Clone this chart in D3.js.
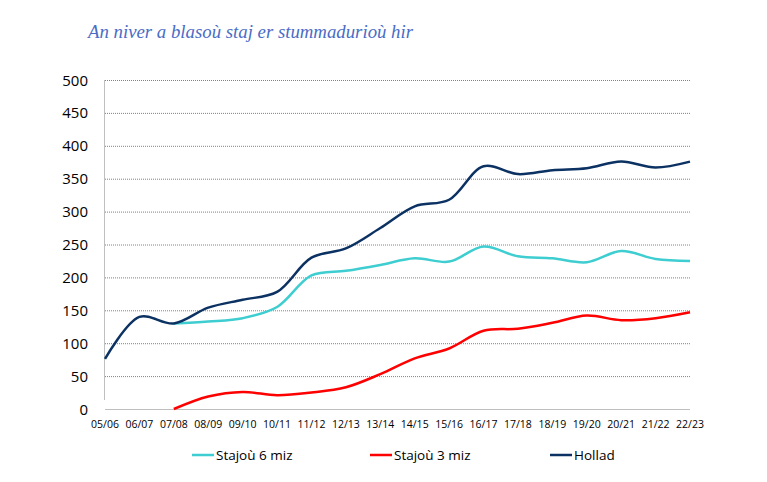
<!DOCTYPE html>
<html>
<head>
<meta charset="utf-8">
<script src="https://cdn.jsdelivr.net/npm/d3@7"></script>
<style>
  body { margin: 0; background: #ffffff; }
</style>
</head>
<body>
<div id="chart"></div>
<script>
// Chart data
const years = ["05/06", "06/07", "07/08", "08/09", "09/10", "10/11", "11/12", "12/13", "13/14",
    "14/15", "15/16", "16/17", "17/18", "18/19", "19/20", "20/21", "21/22", "22/23"];
const sixMonths = [null, null, 130, 133, 138, 155, 203, 210, 219, 229, 224, 247, 232, 229, 223, 240, 228, 225];
const threeMonths = [null, null, 0, 19, 26, 21, 25, 33, 53, 77, 92, 119, 122, 131, 142, 135, 138, 147];
const total = [76, 140, 130, 154, 166, 178, 230, 244, 275, 308, 318, 369, 357, 363, 366, 376, 367, 376];
const yTicks = [0, 50, 100, 150, 200, 250, 300, 350, 400, 450, 500];

const series = [
    { name: "Stajoù 6 miz", values: sixMonths, color: "#3ecdd0" },
    { name: "Stajoù 3 miz", values: threeMonths, color: "#ff0000" },
    { name: "Hollad", values: total, color: "#0c3263" }
];

var width = 767;
var height = 482;
const margin = ({ top: 80, right: 77, bottom: 73, left: 105 });

var svg = d3.select("#chart").append("svg")
    .attr("width", width)
    .attr("height", height);

const xScale = d3.scalePoint()
    .domain(years)
    .range([margin.left, width - margin.right]);

const yScale = d3.scaleLinear()
    .domain([0, 500])
    .range([height - margin.bottom, margin.top]);

// Title
svg.append("text")
    .attr("x", 88)
    .attr("y", 38)
    .attr("fill", "#4a6cc6")
    .attr("font-family", "'Liberation Serif', serif")
    .attr("font-style", "italic")
    .attr("font-size", "18.8px")
    .text("An niver a blasoù staj er stummadurioù hir");

// Gridlines (dotted)
svg.append("g")
    .selectAll("line")
    .data(yTicks.filter(d => d > 0))
    .enter()
    .append("line")
    .attr("x1", margin.left)
    .attr("x2", width - margin.right)
    .attr("y1", d => yScale(d) + 0.5)
    .attr("y2", d => yScale(d) + 0.5)
    .attr("stroke", "#6a86ab")
    .attr("stroke-width", 1)
    .attr("stroke-dasharray", "1,1");

// Baseline and left axis line
svg.append("line")
    .attr("x1", margin.left)
    .attr("x2", width - margin.right)
    .attr("y1", yScale(0) + 0.5)
    .attr("y2", yScale(0) + 0.5)
    .attr("stroke", "#bfbfbf");
svg.append("line")
    .attr("x1", margin.left - 0.5)
    .attr("x2", margin.left - 0.5)
    .attr("y1", yScale(500))
    .attr("y2", yScale(0) - 9)
    .attr("stroke", "#bfbfbf");

// Y tick labels
svg.append("g")
    .selectAll("text")
    .data(yTicks)
    .enter()
    .append("text")
    .attr("x", 88)
    .attr("y", d => yScale(d) + 5.5)
    .attr("text-anchor", "end")
    .attr("font-family", "'Open Sans', sans-serif")
    .attr("font-size", "15px")
    .attr("fill", "#000000")
    .text(d => d);

// X tick labels
svg.append("g")
    .selectAll("text")
    .data(years)
    .enter()
    .append("text")
    .attr("x", d => xScale(d))
    .attr("y", yScale(0) + 19)
    .attr("text-anchor", "middle")
    .attr("font-family", "'Open Sans', sans-serif")
    .attr("font-size", "10.5px")
    .attr("fill", "#000000")
    .text(d => d);

// Smoothed lines
const line = d3.line()
    .defined(d => d.v !== null)
    .x(d => xScale(d.year))
    .y(d => yScale(d.v))
    .curve(d3.curveCatmullRom.alpha(0.5));

svg.append("g")
    .selectAll("path")
    .data(series)
    .enter()
    .append("path")
    .attr("fill", "none")
    .attr("stroke", d => d.color)
    .attr("stroke-width", 2.5)
    .attr("stroke-linejoin", "round")
    .attr("d", d => line(d.values.map((v, i) => ({ year: years[i], v: v }))));

// Legend
const legendX = [192, 370, 550];
const legend = svg.append("g")
    .selectAll("g")
    .data(series)
    .enter()
    .append("g")
    .attr("transform", (d, i) => `translate(${legendX[i]}, 455)`);
legend.append("line")
    .attr("x1", 0)
    .attr("x2", 22)
    .attr("stroke", d => d.color)
    .attr("stroke-width", 2.5);
legend.append("text")
    .attr("x", 24)
    .attr("y", 5)
    .attr("font-family", "'Open Sans', sans-serif")
    .attr("font-size", "13.5px")
    .attr("fill", "#000000")
    .text(d => d.name);
</script>
</body>
</html>
